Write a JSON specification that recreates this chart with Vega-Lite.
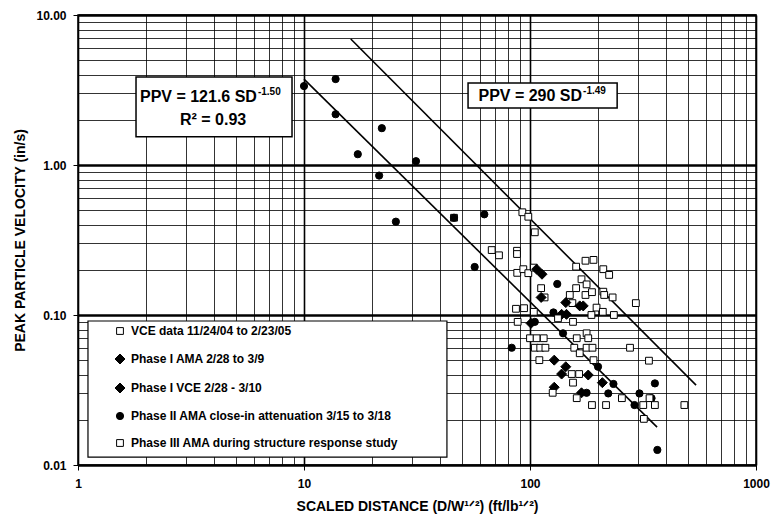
{
  "$schema": "https://vega.github.io/schema/vega-lite/v6.json",
  "width": 678,
  "height": 450,
  "autosize": {"type": "none"},
  "padding": {"left": 78, "top": 15, "right": 28, "bottom": 58},
  "background": "white",
  "config": {
    "font": "Liberation Sans",
    "view": {"stroke": "black", "strokeWidth": 1.5},
    "axis": {
      "labelFont": "Liberation Sans", "labelFontWeight": "bold", "labelFontSize": 12, "labelColor": "black",
      "titleFont": "Liberation Sans", "titleFontWeight": "bold", "titleFontSize": 14, "titleColor": "black",
      "domain": false, "gridColor": "black", "gridOpacity": 1, "tickColor": "black", "tickSize": 5
    },
    "legend": {
      "title": null, "orient": "bottom-left", "offset": 9,
      "padding": 7, "rowPadding": 15, "symbolOffset": 20,
      "symbolStrokeColor": "black", "symbolStrokeWidth": 1,
      "labelFont": "Liberation Sans", "labelFontWeight": "bold", "labelFontSize": 12, "labelColor": "black",
      "labelLimit": 500, "labelOffset": 5
    }
  },
  "datasets": {
    "points": [
      {"series": "VCE data 11/24/04 to 2/23/05", "SD": 46.1, "PPV": 0.445},
      {"series": "VCE data 11/24/04 to 2/23/05", "SD": 92.5, "PPV": 0.484},
      {"series": "VCE data 11/24/04 to 2/23/05", "SD": 98.3, "PPV": 0.452},
      {"series": "VCE data 11/24/04 to 2/23/05", "SD": 105, "PPV": 0.356},
      {"series": "VCE data 11/24/04 to 2/23/05", "SD": 67.7, "PPV": 0.271},
      {"series": "VCE data 11/24/04 to 2/23/05", "SD": 72.9, "PPV": 0.25},
      {"series": "VCE data 11/24/04 to 2/23/05", "SD": 87.6, "PPV": 0.268},
      {"series": "VCE data 11/24/04 to 2/23/05", "SD": 87.6, "PPV": 0.255},
      {"series": "VCE data 11/24/04 to 2/23/05", "SD": 87.8, "PPV": 0.191},
      {"series": "VCE data 11/24/04 to 2/23/05", "SD": 93.4, "PPV": 0.202},
      {"series": "VCE data 11/24/04 to 2/23/05", "SD": 98.3, "PPV": 0.19},
      {"series": "VCE data 11/24/04 to 2/23/05", "SD": 104, "PPV": 0.207},
      {"series": "VCE data 11/24/04 to 2/23/05", "SD": 176, "PPV": 0.23},
      {"series": "VCE data 11/24/04 to 2/23/05", "SD": 191, "PPV": 0.233},
      {"series": "VCE data 11/24/04 to 2/23/05", "SD": 160, "PPV": 0.21},
      {"series": "VCE data 11/24/04 to 2/23/05", "SD": 211, "PPV": 0.202},
      {"series": "VCE data 11/24/04 to 2/23/05", "SD": 224, "PPV": 0.185},
      {"series": "VCE data 11/24/04 to 2/23/05", "SD": 112, "PPV": 0.151},
      {"series": "VCE data 11/24/04 to 2/23/05", "SD": 116, "PPV": 0.131},
      {"series": "VCE data 11/24/04 to 2/23/05", "SD": 169, "PPV": 0.173},
      {"series": "VCE data 11/24/04 to 2/23/05", "SD": 178, "PPV": 0.16},
      {"series": "VCE data 11/24/04 to 2/23/05", "SD": 160, "PPV": 0.151},
      {"series": "VCE data 11/24/04 to 2/23/05", "SD": 150, "PPV": 0.136},
      {"series": "VCE data 11/24/04 to 2/23/05", "SD": 176, "PPV": 0.136},
      {"series": "VCE data 11/24/04 to 2/23/05", "SD": 188, "PPV": 0.142},
      {"series": "VCE data 11/24/04 to 2/23/05", "SD": 211, "PPV": 0.143},
      {"series": "VCE data 11/24/04 to 2/23/05", "SD": 213, "PPV": 0.136},
      {"series": "VCE data 11/24/04 to 2/23/05", "SD": 232, "PPV": 0.131},
      {"series": "VCE data 11/24/04 to 2/23/05", "SD": 294, "PPV": 0.12},
      {"series": "VCE data 11/24/04 to 2/23/05", "SD": 154, "PPV": 0.12},
      {"series": "VCE data 11/24/04 to 2/23/05", "SD": 86.7, "PPV": 0.11},
      {"series": "VCE data 11/24/04 to 2/23/05", "SD": 94.1, "PPV": 0.111},
      {"series": "VCE data 11/24/04 to 2/23/05", "SD": 104, "PPV": 0.105},
      {"series": "VCE data 11/24/04 to 2/23/05", "SD": 197, "PPV": 0.112},
      {"series": "VCE data 11/24/04 to 2/23/05", "SD": 210, "PPV": 0.105},
      {"series": "VCE data 11/24/04 to 2/23/05", "SD": 235, "PPV": 0.1},
      {"series": "Phase I AMA  2/28 to 3/9", "SD": 107, "PPV": 0.202},
      {"series": "Phase I AMA  2/28 to 3/9", "SD": 112, "PPV": 0.131},
      {"series": "Phase I AMA  2/28 to 3/9", "SD": 144, "PPV": 0.121},
      {"series": "Phase I AMA  2/28 to 3/9", "SD": 138, "PPV": 0.101},
      {"series": "Phase I AMA  2/28 to 3/9", "SD": 128, "PPV": 0.05},
      {"series": "Phase I AMA  2/28 to 3/9", "SD": 138, "PPV": 0.0404},
      {"series": "Phase I AMA  2/28 to 3/9", "SD": 209, "PPV": 0.0354},
      {"series": "Phase I AMA  2/28 to 3/9", "SD": 169, "PPV": 0.0303},
      {"series": "Phase I  VCE  2/28 - 3/10", "SD": 113, "PPV": 0.187},
      {"series": "Phase I  VCE  2/28 - 3/10", "SD": 166, "PPV": 0.115},
      {"series": "Phase I  VCE  2/28 - 3/10", "SD": 172, "PPV": 0.115},
      {"series": "Phase I  VCE  2/28 - 3/10", "SD": 145, "PPV": 0.101},
      {"series": "Phase I  VCE  2/28 - 3/10", "SD": 101, "PPV": 0.088},
      {"series": "Phase I  VCE  2/28 - 3/10", "SD": 144, "PPV": 0.0452},
      {"series": "Phase I  VCE  2/28 - 3/10", "SD": 181, "PPV": 0.0398},
      {"series": "Phase I  VCE  2/28 - 3/10", "SD": 128, "PPV": 0.033},
      {"series": "Phase II AMA close-in attenuation 3/15 to 3/18", "SD": 10.0, "PPV": 3.36},
      {"series": "Phase II AMA close-in attenuation 3/15 to 3/18", "SD": 13.8, "PPV": 3.74},
      {"series": "Phase II AMA close-in attenuation 3/15 to 3/18", "SD": 13.8, "PPV": 2.18},
      {"series": "Phase II AMA close-in attenuation 3/15 to 3/18", "SD": 22.1, "PPV": 1.76},
      {"series": "Phase II AMA close-in attenuation 3/15 to 3/18", "SD": 17.3, "PPV": 1.18},
      {"series": "Phase II AMA close-in attenuation 3/15 to 3/18", "SD": 31.3, "PPV": 1.06},
      {"series": "Phase II AMA close-in attenuation 3/15 to 3/18", "SD": 21.5, "PPV": 0.85},
      {"series": "Phase II AMA close-in attenuation 3/15 to 3/18", "SD": 25.5, "PPV": 0.419},
      {"series": "Phase II AMA close-in attenuation 3/15 to 3/18", "SD": 46.1, "PPV": 0.445},
      {"series": "Phase II AMA close-in attenuation 3/15 to 3/18", "SD": 62.8, "PPV": 0.469},
      {"series": "Phase II AMA close-in attenuation 3/15 to 3/18", "SD": 56.9, "PPV": 0.209},
      {"series": "Phase II AMA close-in attenuation 3/15 to 3/18", "SD": 132, "PPV": 0.161},
      {"series": "Phase II AMA close-in attenuation 3/15 to 3/18", "SD": 127, "PPV": 0.104},
      {"series": "Phase II AMA close-in attenuation 3/15 to 3/18", "SD": 105, "PPV": 0.09},
      {"series": "Phase II AMA close-in attenuation 3/15 to 3/18", "SD": 140, "PPV": 0.0755},
      {"series": "Phase II AMA close-in attenuation 3/15 to 3/18", "SD": 83, "PPV": 0.0605},
      {"series": "Phase II AMA close-in attenuation 3/15 to 3/18", "SD": 200, "PPV": 0.0452},
      {"series": "Phase II AMA close-in attenuation 3/15 to 3/18", "SD": 234, "PPV": 0.0347},
      {"series": "Phase II AMA close-in attenuation 3/15 to 3/18", "SD": 357, "PPV": 0.035},
      {"series": "Phase II AMA close-in attenuation 3/15 to 3/18", "SD": 222, "PPV": 0.03},
      {"series": "Phase II AMA close-in attenuation 3/15 to 3/18", "SD": 305, "PPV": 0.03},
      {"series": "Phase II AMA close-in attenuation 3/15 to 3/18", "SD": 345, "PPV": 0.0279},
      {"series": "Phase II AMA close-in attenuation 3/15 to 3/18", "SD": 290, "PPV": 0.0251},
      {"series": "Phase II AMA close-in attenuation 3/15 to 3/18", "SD": 366, "PPV": 0.0126},
      {"series": "Phase II AMA close-in attenuation 3/15 to 3/18", "SD": 178, "PPV": 0.0303},
      {"series": "Phase III  AMA during structure response study", "SD": 133, "PPV": 0.095},
      {"series": "Phase III  AMA during structure response study", "SD": 155, "PPV": 0.09},
      {"series": "Phase III  AMA during structure response study", "SD": 187, "PPV": 0.1},
      {"series": "Phase III  AMA during structure response study", "SD": 88.2, "PPV": 0.09},
      {"series": "Phase III  AMA during structure response study", "SD": 100, "PPV": 0.07},
      {"series": "Phase III  AMA during structure response study", "SD": 107, "PPV": 0.07},
      {"series": "Phase III  AMA during structure response study", "SD": 115, "PPV": 0.07},
      {"series": "Phase III  AMA during structure response study", "SD": 161, "PPV": 0.07},
      {"series": "Phase III  AMA during structure response study", "SD": 178, "PPV": 0.0755},
      {"series": "Phase III  AMA during structure response study", "SD": 181, "PPV": 0.07},
      {"series": "Phase III  AMA during structure response study", "SD": 105, "PPV": 0.0605},
      {"series": "Phase III  AMA during structure response study", "SD": 111, "PPV": 0.0605},
      {"series": "Phase III  AMA during structure response study", "SD": 117, "PPV": 0.0605},
      {"series": "Phase III  AMA during structure response study", "SD": 157, "PPV": 0.0605},
      {"series": "Phase III  AMA during structure response study", "SD": 166, "PPV": 0.0556},
      {"series": "Phase III  AMA during structure response study", "SD": 178, "PPV": 0.0605},
      {"series": "Phase III  AMA during structure response study", "SD": 189, "PPV": 0.0605},
      {"series": "Phase III  AMA during structure response study", "SD": 277, "PPV": 0.0605},
      {"series": "Phase III  AMA during structure response study", "SD": 110, "PPV": 0.05},
      {"series": "Phase III  AMA during structure response study", "SD": 191, "PPV": 0.05},
      {"series": "Phase III  AMA during structure response study", "SD": 336, "PPV": 0.0496},
      {"series": "Phase III  AMA during structure response study", "SD": 153, "PPV": 0.0404},
      {"series": "Phase III  AMA during structure response study", "SD": 165, "PPV": 0.0404},
      {"series": "Phase III  AMA during structure response study", "SD": 155, "PPV": 0.0354},
      {"series": "Phase III  AMA during structure response study", "SD": 126, "PPV": 0.0303},
      {"series": "Phase III  AMA during structure response study", "SD": 161, "PPV": 0.0279},
      {"series": "Phase III  AMA during structure response study", "SD": 188, "PPV": 0.0251},
      {"series": "Phase III  AMA during structure response study", "SD": 217, "PPV": 0.0251},
      {"series": "Phase III  AMA during structure response study", "SD": 255, "PPV": 0.0279},
      {"series": "Phase III  AMA during structure response study", "SD": 317, "PPV": 0.0251},
      {"series": "Phase III  AMA during structure response study", "SD": 338, "PPV": 0.0279},
      {"series": "Phase III  AMA during structure response study", "SD": 357, "PPV": 0.0251},
      {"series": "Phase III  AMA during structure response study", "SD": 482, "PPV": 0.0251},
      {"series": "Phase III  AMA during structure response study", "SD": 319, "PPV": 0.0203}
    ],
    "fits": [
      {"fit": "PPV = 121.6 SD^-1.50", "SD": 10, "PPV": 3.74},
      {"fit": "PPV = 121.6 SD^-1.50", "SD": 365, "PPV": 0.0179},
      {"fit": "PPV = 290 SD^-1.49", "SD": 16.1, "PPV": 6.92},
      {"fit": "PPV = 290 SD^-1.49", "SD": 543, "PPV": 0.0341}
    ],
    "boxes": [
      {"SD": 1.806, "SD2": 8.85, "PPV": 3.86, "PPV2": 1.54, "w": 1.5},
      {"SD": 53.2, "SD2": 243, "PPV": 3.52, "PPV2": 2.4, "w": 1.5},
      {"SD": 1.107, "SD2": 42.9, "PPV": 0.0912, "PPV2": 0.0113, "w": 1.2}
    ],
    "mainText": [
      {"label": "PPV = 121.6 SD", "SD": 6.19, "PPV": 2.63},
      {"label": "PPV = 290 SD", "SD": 170, "PPV": 2.67}
    ],
    "supText": [
      {"label": "-1.50", "SD": 6.19, "PPV": 2.93},
      {"label": "-1.49", "SD": 170, "PPV": 2.97}
    ],
    "centerText": [
      {"label": "R² = 0.93", "SD": 3.96, "PPV": 1.85}
    ]
  },
  "encoding": {
    "x": {
      "field": "SD", "type": "quantitative",
      "scale": {"type": "log", "domain": [1, 1000], "nice": false, "zero": false},
      "axis": {
        "title": "SCALED DISTANCE (D/W¹ᐟ²)  (ft/lb¹ᐟ²)",
        "values": [1,2,3,4,5,6,7,8,9,10,20,30,40,50,60,70,80,90,100,200,300,400,500,600,700,800,900,1000],
        "labelExpr": "abs(log(datum.value)/LN10 - round(log(datum.value)/LN10)) < 1e-6 ? format(datum.value, 'd') : ''",
        "gridWidth": {"condition": {"test": "abs(log(datum.value)/LN10 - round(log(datum.value)/LN10)) < 1e-6", "value": 1.6}, "value": 0.8},
        "tickOpacity": {"condition": {"test": "abs(log(datum.value)/LN10 - round(log(datum.value)/LN10)) < 1e-6", "value": 1}, "value": 0},
        "labelPadding": 8,
        "titlePadding": 10,
        "labelFlush": false,
        "labelOverlap": false
      }
    },
    "y": {
      "field": "PPV", "type": "quantitative",
      "scale": {"type": "log", "domain": [0.01, 10], "nice": false, "zero": false},
      "axis": {
        "title": "PEAK PARTICLE VELOCITY (in/s)",
        "values": [0.01,0.02,0.03,0.04,0.05,0.06,0.07,0.08,0.09,0.1,0.2,0.3,0.4,0.5,0.6,0.7,0.8,0.9,1,2,3,4,5,6,7,8,9,10],
        "labelExpr": "abs(log(datum.value)/LN10 - round(log(datum.value)/LN10)) < 1e-6 ? format(datum.value, '.2f') : ''",
        "gridWidth": {"condition": {"test": "abs(log(datum.value)/LN10 - round(log(datum.value)/LN10)) < 1e-6", "value": 2.5}, "value": 0.8},
        "tickOpacity": {"condition": {"test": "abs(log(datum.value)/LN10 - round(log(datum.value)/LN10)) < 1e-6", "value": 1}, "value": 0},
        "labelPadding": 7,
        "titlePadding": 8,
        "labelFlush": false,
        "labelOverlap": false
      }
    }
  },
  "layer": [
    {
      "data": {"name": "fits"},
      "mark": {"type": "line", "color": "black", "strokeWidth": 1.6},
      "encoding": {"detail": {"field": "fit", "type": "nominal"}}
    },
    {
      "data": {"name": "boxes"},
      "mark": {"type": "rect", "fill": "white", "stroke": "black"},
      "encoding": {
        "x2": {"field": "SD2"},
        "y2": {"field": "PPV2"},
        "strokeWidth": {"field": "w", "type": "quantitative", "scale": null}
      }
    },
    {
      "data": {"name": "points"},
      "mark": {"type": "point", "filled": true, "strokeWidth": 1, "opacity": 1},
      "encoding": {
        "shape": {
          "field": "series", "type": "nominal",
          "scale": {
            "domain": ["VCE data 11/24/04 to 2/23/05", "Phase I AMA  2/28 to 3/9", "Phase I  VCE  2/28 - 3/10", "Phase II AMA close-in attenuation 3/15 to 3/18", "Phase III  AMA during structure response study"],
            "range": ["square", "diamond", "diamond", "circle", "square"]
          }
        },
        "fill": {
          "field": "series", "type": "nominal",
          "scale": {
            "domain": ["VCE data 11/24/04 to 2/23/05", "Phase I AMA  2/28 to 3/9", "Phase I  VCE  2/28 - 3/10", "Phase II AMA close-in attenuation 3/15 to 3/18", "Phase III  AMA during structure response study"],
            "range": ["white", "black", "black", "black", "white"]
          }
        },
        "stroke": {
          "field": "series", "type": "nominal",
          "scale": {
            "domain": ["VCE data 11/24/04 to 2/23/05", "Phase I AMA  2/28 to 3/9", "Phase I  VCE  2/28 - 3/10", "Phase II AMA close-in attenuation 3/15 to 3/18", "Phase III  AMA during structure response study"],
            "range": ["black", "black", "black", "black", "black"]
          }
        },
        "size": {
          "field": "series", "type": "nominal",
          "scale": {
            "type": "ordinal",
            "domain": ["VCE data 11/24/04 to 2/23/05", "Phase I AMA  2/28 to 3/9", "Phase I  VCE  2/28 - 3/10", "Phase II AMA close-in attenuation 3/15 to 3/18", "Phase III  AMA during structure response study"],
            "range": [46, 100, 100, 52, 46]
          }
        }
      }
    },
    {
      "data": {"name": "mainText"},
      "mark": {"type": "text", "align": "right", "baseline": "alphabetic", "font": "Liberation Sans", "fontWeight": "bold", "fontSize": 16, "color": "black"},
      "encoding": {"text": {"field": "label"}}
    },
    {
      "data": {"name": "supText"},
      "mark": {"type": "text", "align": "left", "baseline": "alphabetic", "dx": 1, "font": "Liberation Sans", "fontWeight": "bold", "fontSize": 10, "color": "black"},
      "encoding": {"text": {"field": "label"}}
    },
    {
      "data": {"name": "centerText"},
      "mark": {"type": "text", "align": "center", "baseline": "alphabetic", "font": "Liberation Sans", "fontWeight": "bold", "fontSize": 16, "color": "black"},
      "encoding": {"text": {"field": "label"}}
    }
  ]
}
